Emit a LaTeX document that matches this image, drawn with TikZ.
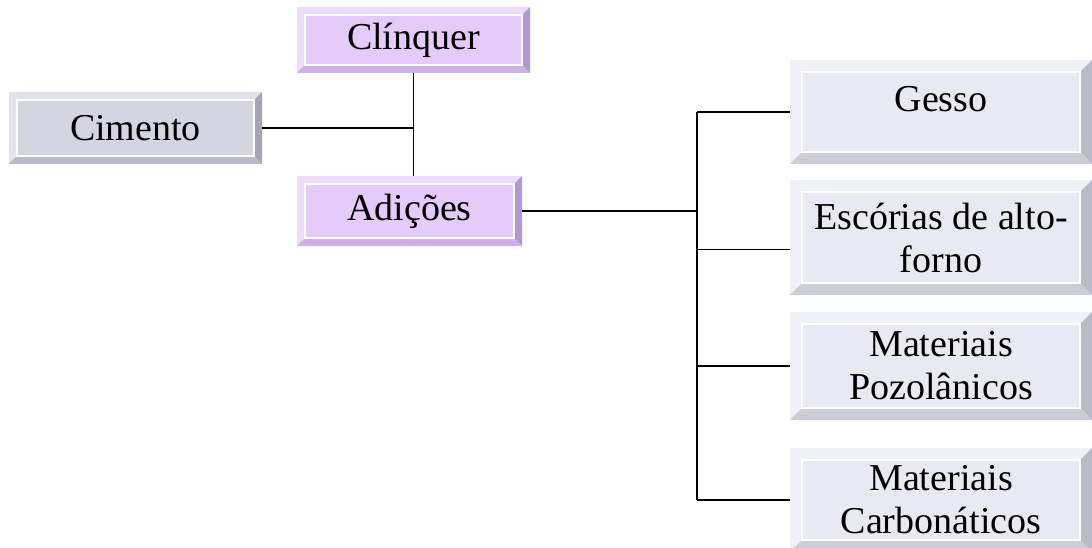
\documentclass[tikz,border=0pt]{standalone}
\usepackage{fontspec}
\setmainfont{Liberation Serif}
\newcommand\boxfont{\fontsize{38}{43}\selectfont}

\definecolor{grayface}{HTML}{D5D5E1}
\definecolor{graylight}{HTML}{E3E3EB}
\definecolor{graydark}{HTML}{A4A4B4}
\definecolor{graylow}{HTML}{BBBBC7}
\definecolor{lilface}{HTML}{E4CBFA}
\definecolor{lillight}{HTML}{EDDCFC}
\definecolor{lildark}{HTML}{B697D3}
\definecolor{lillow}{HTML}{CDB1E7}
\definecolor{paleface}{HTML}{E9E9F4}
\definecolor{palelight}{HTML}{F0F0F7}
\definecolor{paledark}{HTML}{BABAC8}
\definecolor{palelow}{HTML}{CDCDD8}

\tikzset{
  bevelbox/.style n args={6}{% bevel, face, top/left, right, bottom
    fill=#2, draw=none, font=\boxfont, align=center, inner sep=0pt,
    path picture={
      \path (path picture bounding box.north west) coordinate (bnw)
            (path picture bounding box.north east) coordinate (bne)
            (path picture bounding box.south east) coordinate (bse)
            (path picture bounding box.south west) coordinate (bsw);
      \fill[#3] (bnw) -- (bne) -- ([shift={(-#1,-#1)}]bne) -- ([shift={(#1,-#1)}]bnw) -- cycle;
      \fill[#3] (bnw) -- (bsw) -- ([shift={(#1,#1)}]bsw) -- ([shift={(#1,-#1)}]bnw) -- cycle;
      \fill[#4] (bne) -- (bse) -- ([shift={(-#1,#1)}]bse) -- ([shift={(-#1,-#1)}]bne) -- cycle;
      \fill[#5] (bsw) -- (bse) -- ([shift={(-#1,#1)}]bse) -- ([shift={(#1,#1)}]bsw) -- cycle;
      \draw[white, line width=1.2pt] ([shift={(#1,-#1)}]bnw) rectangle ([shift={(-#1,#1)}]bse);
    }},
  graybox/.style={bevelbox={8pt}{grayface}{graylight}{graydark}{graylow}{}},
  lilbox/.style={bevelbox={8pt}{lilface}{lillight}{lildark}{lillow}{}},
  palebox/.style={bevelbox={12pt}{paleface}{palelight}{paledark}{palelow}{}, minimum width=302pt},
  link/.style={line width=1.6pt, black},
}

\begin{document}
\begin{tikzpicture}[x=1pt,y=-1pt]
  \useasboundingbox (0,0) rectangle (1092,548);

  \node[graybox, minimum width=253pt, minimum height=72pt] (cim) at (135.5,128) {Cimento};
  \node[lilbox, minimum width=233pt, minimum height=66pt] (cli) at (413.5,40) {Clínquer};
  \node[lilbox, minimum width=225pt, minimum height=70pt] (adi) at (409.5,211) {Adições};

  \node[palebox, minimum height=104pt, text height=22pt, text depth=22pt] (ges) at (941,112) {Gesso};
  \node[palebox, minimum height=115pt] (esc) at (941,237.5) {Escórias de alto-\\forno};
  \node[palebox, minimum height=108pt] (poz) at (941,366) {Materiais\\Pozolânicos};
  \node[palebox, minimum height=104pt] (car) at (941,500) {Materiais\\Carbonáticos};

  % left part
  \draw[link] (cim.east) -- (cim.east -| cli.south);
  \draw[link] (cli.south) -- (cli.south |- adi.north);

  % right part
  \coordinate (trunk) at (697,211);
  \coordinate (escin) at ([yshift=-12pt]esc.west);
  \draw[link] (adi.east) -- (trunk);
  \draw[link] (ges.west -| trunk) -- (car.west -| trunk);
  \foreach \n in {ges,poz,car}
    \draw[link] (\n.west -| trunk) -- (\n.west);
  \draw[link] (escin -| trunk) -- (escin);
\end{tikzpicture}
\end{document}
